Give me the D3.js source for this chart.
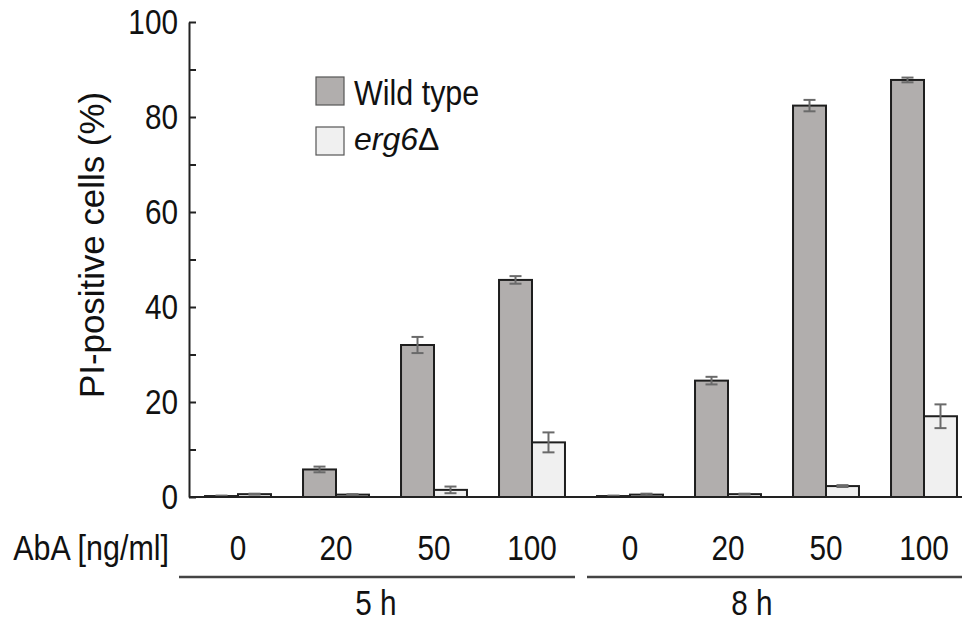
<!DOCTYPE html>
<html>
<head>
<meta charset="utf-8">
<script src="https://cdn.jsdelivr.net/npm/d3@7"></script>
<style>
  html, body { margin: 0; padding: 0; background: #fff; }
  svg text { font-family: "Liberation Sans", Arial, sans-serif; fill: #111; }
</style>
</head>
<body>
<svg id="chart" width="962" height="623"></svg>
<script>
// values (% PI-positive cells)
var doses = ['0', '20', '50', '100', '0', '20', '50', '100'];
var times = ['5 h', '8 h'];
var wildType    = [0.2, 5.8, 32.0, 45.7, 0.2, 24.5, 82.4, 87.8];
var wildTypeErr = [0.1, 0.6, 1.7, 0.8, 0.1, 0.8, 1.2, 0.5];
var erg6        = [0.6, 0.5, 1.5, 11.5, 0.5, 0.6, 2.3, 17.0];
var erg6Err     = [0.1, 0.1, 0.7, 2.1, 0.2, 0.1, 0.2, 2.5];
var yTicks = [0, 10, 20, 30, 40, 50, 60, 70, 80, 90, 100];

var svg = d3.select('#chart'),
    axisX = 189,
    baseY = 497,
    topY = 22,
    fontSize = '35px';

// the figure uses a condensed face, squeeze glyphs horizontally
function condense(sel, k) {
  sel.each(function() {
    var w = this.getComputedTextLength();
    this.setAttribute('textLength', w * k);
    this.setAttribute('lengthAdjust', 'spacingAndGlyphs');
  });
}

var x = d3.scaleBand()
      .domain(d3.range(doses.length))
      .range([axisX, 973])
      .paddingInner(0.327)
      .paddingOuter(0.1635),
    sub = d3.scaleBand()
      .domain(['wt', 'erg6'])
      .range([0, x.bandwidth()]),
    y = d3.scaleLinear()
      .domain([0, 100])
      .range([baseY, topY]);

var colors = { wt: '#b1aead', erg6: '#f0f0f0' };

var rows = doses.map(function(d, i) {
  return [
    { i: i, key: 'wt', v: wildType[i], e: wildTypeErr[i] },
    { i: i, key: 'erg6', v: erg6[i], e: erg6Err[i] }
  ];
});
var flat = d3.merge(rows);

// bars
svg.append('g').selectAll('rect')
    .data(flat)
  .enter().append('rect')
    .attr('x', function(d) { return x(d.i) + sub(d.key); })
    .attr('y', function(d) { return y(d.v); })
    .attr('width', sub.bandwidth())
    .attr('height', function(d) { return baseY - y(d.v); })
    .attr('fill', function(d) { return colors[d.key]; })
    .attr('stroke', '#1e1e1e')
    .attr('stroke-width', 2);

// error bars
var err = svg.append('g')
    .attr('stroke', '#6a6a6a')
    .attr('stroke-width', 2);
var cap = 6;
flat.forEach(function(d) {
  var cx = x(d.i) + sub(d.key) + sub.bandwidth() / 2;
  err.append('line')
    .attr('x1', cx).attr('x2', cx)
    .attr('y1', y(d.v + d.e)).attr('y2', y(d.v - d.e));
  [d.v + d.e, d.v - d.e].forEach(function(v) {
    err.append('line')
      .attr('x1', cx - cap).attr('x2', cx + cap)
      .attr('y1', y(v)).attr('y2', y(v));
  });
});

// y axis, ticks pointing inward
var yAxis = d3.axisLeft(y)
    .tickValues(yTicks)
    .tickSizeInner(-7)
    .tickSizeOuter(0)
    .tickPadding(11)
    .tickFormat(function(d) { return d % 20 === 0 ? d : ''; });

var gy = svg.append('g')
    .attr('transform', 'translate(' + axisX + ',0)')
    .call(yAxis);
gy.select('.domain').attr('stroke', '#222').attr('stroke-width', 2);
gy.selectAll('.tick line').attr('stroke', '#222').attr('stroke-width', 2);
gy.selectAll('.tick text')
    .style('font-family', '"Liberation Sans", Arial, sans-serif')
    .style('font-size', fontSize)
    .attr('fill', '#111')
    .call(condense, 0.85);

// baseline
svg.append('line')
    .attr('x1', axisX).attr('x2', 962)
    .attr('y1', baseY).attr('y2', baseY)
    .attr('stroke', '#222').attr('stroke-width', 2);

// y label
svg.append('text')
    .attr('transform', 'translate(104,245) rotate(-90)')
    .attr('text-anchor', 'middle')
    .style('font-size', fontSize)
    .attr('textLength', 306)
    .attr('lengthAdjust', 'spacingAndGlyphs')
    .text('PI-positive cells (%)');

// dose labels
svg.append('text')
    .attr('x', 169).attr('y', 560)
    .attr('text-anchor', 'end')
    .style('font-size', fontSize)
    .text('AbA [ng/ml]')
    .call(condense, 0.87);

svg.append('g').selectAll('text')
    .data(doses)
  .enter().append('text')
    .attr('x', function(d, i) { return x(i) + x.bandwidth() / 2; })
    .attr('y', 560)
    .attr('text-anchor', 'middle')
    .style('font-size', fontSize)
    .text(function(d) { return d; })
    .call(condense, 0.85);

// time group lines
var groupLines = [[179, 575], [587, 962]],
    groupLabelX = [376, 752];
times.forEach(function(t, k) {
  svg.append('line')
    .attr('x1', groupLines[k][0]).attr('x2', groupLines[k][1])
    .attr('y1', 577).attr('y2', 577)
    .attr('stroke', '#444').attr('stroke-width', 2.5);
  svg.append('text')
    .attr('x', groupLabelX[k]).attr('y', 615)
    .attr('text-anchor', 'middle')
    .style('font-size', fontSize)
    .text(t)
    .call(condense, 0.85);
});

// legend
var legend = svg.append('g').attr('transform', 'translate(316,77)');
[{ key: 'wt', y: 0 }, { key: 'erg6', y: 50 }].forEach(function(l) {
  legend.append('rect')
    .attr('x', 0).attr('y', l.y)
    .attr('width', 28).attr('height', 28)
    .attr('fill', colors[l.key])
    .attr('stroke', '#555').attr('stroke-width', 1.2);
});
legend.append('text')
    .attr('x', 38).attr('y', 28)
    .style('font-size', fontSize)
    .text('Wild type')
    .call(condense, 0.87);
var ergText = legend.append('text')
    .attr('x', 38).attr('y', 73)
    .style('font-size', '32px');
ergText.append('tspan').style('font-style', 'italic').text('erg6');
ergText.append('tspan').text('\u0394');
</script>
</body>
</html>
